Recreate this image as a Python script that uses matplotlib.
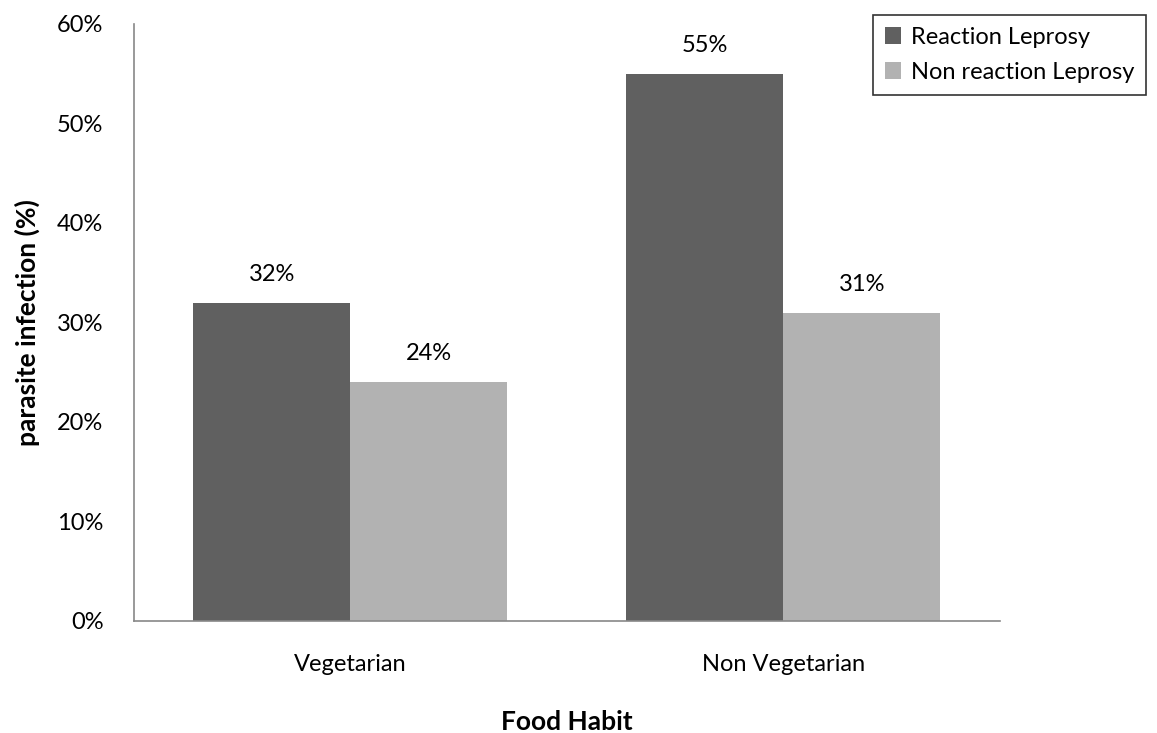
import numpy as np
import matplotlib.pyplot as plt
from matplotlib.ticker import FuncFormatter

# food habit vs parasite infection
categories = ['Vegetarian', 'Non Vegetarian']
series_names = ['Reaction Leprosy', 'Non reaction Leprosy']
reaction = [32, 55]
non_reaction = [24, 31]
colors = ['#606060', '#b2b2b2']

plt.rcParams['font.family'] = ['Lato', 'DejaVu Sans']

fig = plt.figure(figsize=(11.57, 7.33), dpi=100)
ax = fig.add_axes([0.1158, 0.1528, 0.7485, 0.8145])

x = np.arange(len(categories))
w = 0.3626
b1 = ax.bar(x - w/2, reaction, w, color=colors[0], label=series_names[0])
b2 = ax.bar(x + w/2, non_reaction, w, color=colors[1], label=series_names[1])

for bars, vals in [(b1, reaction), (b2, non_reaction)]:
    for r, v in zip(bars, vals):
        ax.text(r.get_x() + r.get_width()/2, v + 1.8, '%d%%' % v,
                ha='center', va='bottom', fontsize=17)

ax.set_xlim(-0.5, 1.5)
ax.set_ylim(0, 60)
ax.set_yticks(range(0, 61, 10))
ax.yaxis.set_major_formatter(FuncFormatter(lambda v, p: '%d%%' % v))
ax.set_xticks(x)
ax.set_xticklabels(categories)
ax.tick_params(length=0, labelsize=17)
ax.tick_params(axis='y', pad=22)
ax.tick_params(axis='x', pad=24)

for s in ['top', 'right']:
    ax.spines[s].set_visible(False)
for s in ['left', 'bottom']:
    ax.spines[s].set_color('#888888')
    ax.spines[s].set_linewidth(1.2)

ax.set_ylabel('parasite infection (%)', fontsize=19, fontweight='bold', labelpad=12)
ax.set_xlabel('Food Habit', fontsize=19, fontweight='bold', labelpad=25)

leg = ax.legend(loc='upper left', bbox_to_anchor=(0.7545, 0.9795), bbox_transform=fig.transFigure,
                frameon=True, fancybox=False, fontsize=17, handlelength=0.7, handleheight=0.7,
                handletextpad=0.4, borderpad=0.5, labelspacing=0.6, borderaxespad=0)
leg.get_frame().set_edgecolor('black')
leg.get_frame().set_linewidth(1.2)

fig.savefig('out.png', dpi=100)
